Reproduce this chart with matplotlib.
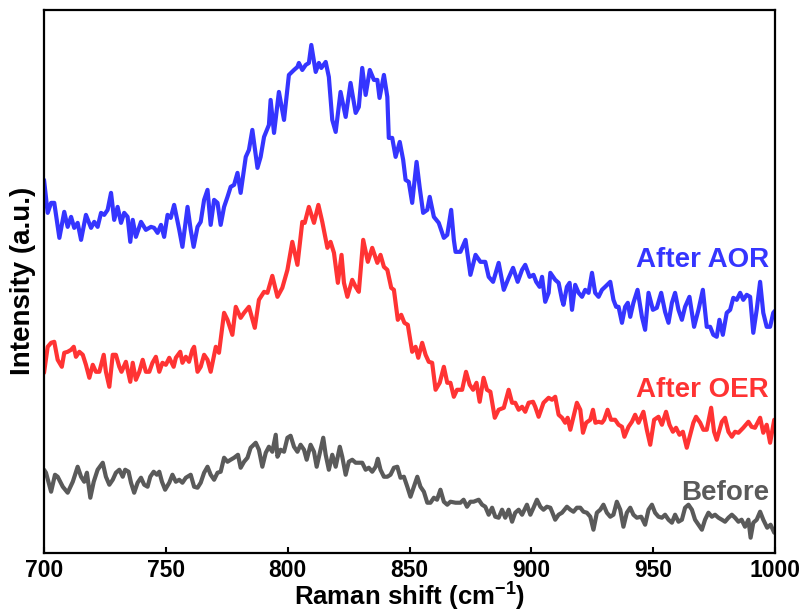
import matplotlib
matplotlib.use("Agg")
import matplotlib.pyplot as plt

plt.rcParams['font.family'] = ['Liberation Sans', 'DejaVu Sans']
plt.rcParams['font.weight'] = 'bold'
plt.rcParams['mathtext.fontset'] = 'custom'
plt.rcParams['mathtext.rm'] = 'Liberation Sans:bold'
plt.rcParams['mathtext.bf'] = 'Liberation Sans:bold'
plt.rcParams['mathtext.default'] = 'bf'

# Raman spectra (intensity in arbitrary units, curves already offset)
aor_x = [700.0, 701.5, 702.9, 704.2, 706.3, 708.3, 709.7, 711.1, 712.4, 713.8, 715.2, 717.2, 719.3, 720.6,
         722.0, 723.4, 724.7, 726.1, 727.5, 728.8, 730.2, 731.6, 732.9, 734.3, 735.4, 736.4, 737.7, 739.8,
         741.8, 743.9, 745.2, 746.6, 748.0, 749.3, 750.7, 752.0, 753.4, 755.5, 756.8, 758.9, 760.2, 761.4,
         763.0, 764.3, 765.7, 767.1, 768.4, 769.8, 771.2, 772.5, 773.9, 775.3, 776.6, 778.0, 779.4, 780.7,
         782.8, 784.1, 785.5, 787.6, 788.9, 790.3, 792.3, 793.0, 794.4, 796.4, 798.5, 800.5, 802.6, 804.0,
         804.6, 806.0, 807.4, 808.7, 809.7, 811.5, 812.8, 813.8, 815.6, 816.9, 818.3, 819.7, 821.7, 823.8,
         825.8, 827.9, 829.2, 830.6, 832.0, 833.7, 835.4, 836.8, 837.7, 839.5, 840.9, 841.5, 842.9, 844.3,
         846.0, 847.4, 848.4, 849.7, 851.1, 852.9, 854.2, 855.6, 857.3, 858.3, 860.0, 862.0, 864.1, 865.5,
         867.1, 868.2, 868.9, 870.9, 873.0, 875.0, 877.1, 879.1, 881.1, 882.5, 884.3, 886.6, 888.7, 890.7,
         892.5, 894.4, 896.2, 897.5, 899.3, 900.9, 902.0, 903.4, 904.4, 905.7, 907.1, 907.8, 909.8, 911.2,
         912.6, 913.2, 914.6, 915.7, 916.7, 918.0, 919.4, 920.8, 922.1, 923.5, 924.9, 926.2, 927.6, 929.0,
         930.3, 932.4, 933.7, 934.8, 935.8, 937.2, 938.5, 939.6, 940.6, 941.9, 943.6, 945.4, 946.7, 948.1,
         949.9, 951.5, 953.3, 954.9, 956.3, 957.7, 959.0, 960.4, 961.8, 963.1, 964.9, 966.8, 968.6, 970.4,
         972.0, 973.4, 974.7, 976.1, 977.2, 978.6, 980.2, 981.6, 982.9, 984.3, 985.7, 987.0, 988.4, 989.8,
         991.1, 992.5, 993.9, 995.2, 996.6, 998.0, 999.3, 1000.0]
aor_y = [368, 335, 345, 345, 310, 336, 321, 331, 320, 325, 308, 333, 320, 326,
         321, 335, 333, 338, 355, 328, 341, 325, 335, 331, 306, 328, 311, 326,
         318, 321, 320, 315, 323, 311, 333, 330, 343, 318, 301, 341, 318, 301,
         321, 326, 348, 358, 323, 348, 345, 323, 341, 351, 361, 363, 375, 355,
         391, 398, 418, 380, 391, 411, 423, 448, 415, 456, 428, 473, 478, 481,
         485, 478, 483, 485, 503, 476, 485, 480, 486, 471, 428, 416, 456, 431,
         465, 435, 441, 480, 453, 478, 468, 468, 450, 473, 451, 410, 410, 391,
         406, 388, 368, 366, 345, 386, 360, 335, 338, 351, 331, 325, 310, 313,
         338, 308, 296, 296, 308, 273, 293, 286, 286, 271, 266, 285, 258, 270,
         280, 266, 278, 283, 271, 273, 266, 261, 271, 246, 255, 275, 268, 265,
         248, 243, 261, 265, 238, 263, 255, 251, 258, 255, 275, 255, 251, 258,
         261, 266, 248, 241, 241, 225, 241, 245, 231, 245, 258, 231, 218, 255,
         238, 240, 255, 236, 225, 245, 255, 238, 228, 241, 251, 221, 238, 258,
         221, 221, 213, 211, 228, 213, 235, 238, 250, 248, 255, 248, 253, 251,
         215, 238, 266, 235, 221, 221, 235, 237]

oer_x = [700.0, 701.5, 702.9, 704.2, 705.6, 707.3, 708.3, 709.7, 711.1, 712.2, 713.1, 714.5, 715.9, 717.2,
         718.6, 720.0, 721.3, 722.7, 724.5, 725.4, 726.8, 728.2, 729.5, 730.9, 731.8, 733.6, 735.4, 736.4,
         737.7, 739.1, 740.5, 741.8, 743.2, 744.5, 745.9, 747.3, 748.6, 750.0, 751.4, 753.2, 754.1, 755.9,
         756.8, 758.2, 759.5, 760.9, 761.6, 763.0, 764.3, 765.7, 767.1, 768.4, 770.5, 771.8, 773.9, 775.3,
         777.3, 778.7, 780.7, 782.1, 784.1, 786.5, 788.2, 790.3, 791.7, 793.7, 795.8, 797.8, 799.9, 801.9,
         804.0, 806.0, 807.0, 808.7, 810.8, 812.6, 814.2, 816.3, 817.6, 819.0, 820.6, 822.1, 823.1, 824.5,
         826.5, 827.9, 829.2, 831.0, 832.9, 834.7, 836.8, 838.1, 839.5, 840.9, 842.5, 843.6, 845.2, 846.6,
         847.9, 849.3, 851.1, 852.5, 853.6, 855.2, 856.6, 857.9, 859.3, 860.7, 862.4, 864.1, 865.5, 866.8,
         868.2, 869.5, 871.6, 873.2, 874.7, 876.1, 877.5, 878.8, 880.4, 881.8, 883.2, 885.0, 886.6, 888.7,
         890.7, 892.1, 893.4, 894.8, 896.2, 897.5, 898.9, 900.7, 901.6, 903.0, 905.0, 907.1, 908.5, 909.8,
         911.2, 912.6, 913.9, 914.9, 916.0, 917.3, 918.7, 920.1, 921.2, 922.5, 924.2, 925.3, 926.3, 927.6,
         929.0, 929.9, 931.3, 932.7, 934.4, 935.8, 937.2, 938.2, 939.9, 941.3, 942.6, 944.0, 946.0, 947.4,
         948.8, 950.4, 952.2, 953.6, 955.3, 956.7, 958.1, 959.4, 960.8, 962.2, 963.8, 965.2, 966.5, 967.6,
         969.3, 970.6, 972.0, 973.8, 975.0, 976.1, 978.2, 979.5, 980.9, 982.3, 983.6, 985.0, 987.0, 989.1,
         990.4, 991.8, 993.9, 995.2, 996.6, 998.0, 999.7]
oer_y = [175, 201, 205, 206, 188, 181, 195, 196, 198, 201, 191, 196, 193, 183,
         170, 183, 176, 176, 193, 176, 161, 193, 193, 181, 176, 186, 166, 185,
         168, 176, 188, 176, 176, 185, 191, 176, 185, 183, 190, 181, 190, 196,
         185, 191, 186, 198, 201, 176, 181, 193, 188, 176, 201, 195, 235, 228,
         213, 241, 230, 235, 241, 220, 248, 256, 255, 272, 251, 260, 278, 306,
         283, 326, 325, 341, 325, 343, 326, 300, 306, 295, 265, 293, 265, 251,
         268, 261, 256, 308, 286, 300, 285, 293, 281, 278, 260, 258, 228, 233,
         225, 223, 196, 201, 190, 205, 193, 186, 185, 158, 165, 181, 165, 165,
         151, 158, 158, 176, 163, 158, 165, 146, 170, 158, 156, 130, 138, 140,
         158, 145, 145, 138, 141, 136, 145, 146, 141, 131, 145, 150, 148, 151,
         133, 130, 125, 130, 118, 131, 145, 138, 115, 125, 128, 138, 125, 126,
         125, 128, 138, 128, 128, 123, 121, 111, 121, 126, 133, 125, 136, 118,
         103, 128, 131, 123, 136, 123, 116, 120, 113, 116, 100, 113, 125, 131,
         125, 118, 118, 140, 116, 108, 126, 130, 116, 111, 116, 115, 120, 126,
         121, 120, 130, 115, 123, 105, 128]

before_x = [700.0, 700.8, 702.9, 704.5, 705.6, 707.7, 709.7, 711.8, 713.8, 715.2, 716.5, 717.6, 719.0, 720.4,
            722.0, 724.1, 725.4, 726.8, 728.2, 729.5, 730.9, 732.3, 733.3, 734.7, 735.7, 737.0, 738.4, 739.8,
            741.1, 742.5, 743.6, 745.0, 746.3, 747.3, 748.4, 749.7, 751.4, 752.7, 754.1, 755.5, 756.8, 758.2,
            760.2, 761.6, 763.0, 764.3, 765.7, 767.1, 768.4, 769.8, 771.2, 772.5, 773.9, 775.3, 776.6, 778.0,
            779.6, 780.7, 782.1, 783.5, 784.8, 786.9, 788.2, 789.6, 791.0, 792.3, 793.7, 795.1, 795.8, 797.1,
            798.5, 799.9, 801.2, 802.6, 804.0, 805.3, 806.7, 807.8, 809.4, 810.8, 811.9, 813.2, 814.6, 815.6,
            816.9, 818.3, 819.7, 821.4, 822.4, 823.8, 825.1, 826.5, 827.9, 829.2, 830.6, 832.0, 833.3, 834.7,
            836.1, 837.0, 838.1, 839.5, 840.9, 842.2, 843.6, 845.0, 846.3, 847.7, 849.1, 850.4, 851.8, 853.2,
            854.5, 855.9, 857.3, 858.6, 860.0, 861.3, 862.7, 864.1, 865.5, 866.8, 868.9, 870.9, 872.2, 873.6,
            875.0, 876.3, 878.4, 879.8, 881.1, 882.5, 883.9, 885.2, 886.6, 888.0, 889.3, 890.7, 892.1, 893.4,
            894.8, 896.2, 898.2, 899.6, 900.9, 902.3, 903.7, 905.0, 906.4, 907.8, 908.5, 909.8, 911.2, 912.6,
            914.6, 916.0, 917.3, 918.7, 920.1, 921.4, 922.8, 924.2, 925.5, 926.9, 928.3, 929.6, 931.0, 932.4,
            933.7, 935.1, 936.5, 937.8, 939.2, 940.6, 941.9, 943.3, 945.1, 946.7, 948.1, 949.5, 950.8, 952.2,
            953.6, 954.9, 956.3, 957.7, 959.0, 960.4, 961.8, 963.1, 964.5, 965.9, 967.2, 968.6, 970.0, 971.3,
            972.7, 974.1, 975.4, 976.8, 978.2, 979.5, 980.9, 982.3, 983.6, 985.0, 986.3, 987.7, 989.1, 990.0,
            991.1, 992.5, 993.9, 995.2, 996.8, 998.2, 999.7]
before_y = [78, 75, 56, 73, 71, 61, 55, 66, 81, 71, 66, 75, 50, 66,
            78, 85, 71, 63, 68, 75, 78, 71, 78, 76, 65, 55, 65, 70,
            63, 61, 71, 76, 73, 76, 66, 58, 65, 73, 66, 68, 65, 70,
            73, 61, 60, 65, 75, 81, 73, 68, 75, 76, 90, 86, 88, 90,
            93, 80, 86, 90, 100, 105, 98, 81, 95, 101, 96, 113, 91, 98,
            96, 110, 112, 101, 96, 103, 98, 88, 103, 96, 81, 95, 110, 93,
            78, 93, 81, 101, 91, 73, 86, 88, 85, 85, 85, 78, 80, 76,
            81, 89, 78, 71, 71, 73, 80, 81, 70, 71, 61, 51, 61, 71,
            61, 56, 45, 45, 50, 48, 58, 46, 43, 46, 45, 45, 48, 41,
            46, 46, 48, 43, 41, 33, 40, 31, 30, 38, 30, 38, 26, 35,
            38, 33, 43, 33, 40, 48, 41, 38, 41, 40, 36, 28, 33, 35,
            41, 38, 36, 40, 40, 36, 35, 31, 18, 35, 38, 43, 35, 31,
            33, 46, 38, 21, 35, 40, 33, 30, 31, 23, 38, 43, 35, 31,
            30, 33, 28, 25, 33, 26, 28, 40, 43, 38, 28, 23, 18, 28,
            35, 31, 33, 30, 28, 26, 30, 33, 30, 26, 28, 21, 28, 10,
            25, 28, 36, 28, 20, 23, 15]

series = [
    (aor_x, aor_y, '#3535FF', 'After AOR', 281),
    (oer_x, oer_y, '#FF3333', 'After OER', 151),
    (before_x, before_y, '#5A5A5A', 'Before', 48),
]

fig = plt.figure(figsize=(8.02, 6.12), dpi=100)
ax = fig.add_axes([0.0549, 0.0969, 0.9114, 0.8868])

for x, y, color, name, label_y in series:
    ax.plot(x, y, color=color, lw=3.0, solid_joinstyle='round', solid_capstyle='round')
    ax.text(997.5, label_y, name, color=color, fontsize=20, fontweight='bold',
            ha='right', va='baseline')

ax.set_xlim(700, 1000)
ax.set_ylim(-5, 538)
ax.set_xticks([700, 750, 800, 850, 900, 950, 1000])
ax.set_yticks([])
ax.tick_params(axis='x', direction='in', length=4.5, width=1.5, pad=4.5, labelsize=16.5)
for sp in ax.spines.values():
    sp.set_linewidth(1.6)

ax.set_xlabel(r'Raman shift (cm$^{-1}$)', fontsize=18.5, fontweight='bold', labelpad=-1)
ax.set_ylabel('Intensity (a.u.)', fontsize=20, fontweight='bold', labelpad=6)

fig.savefig('out.png', dpi=100)
